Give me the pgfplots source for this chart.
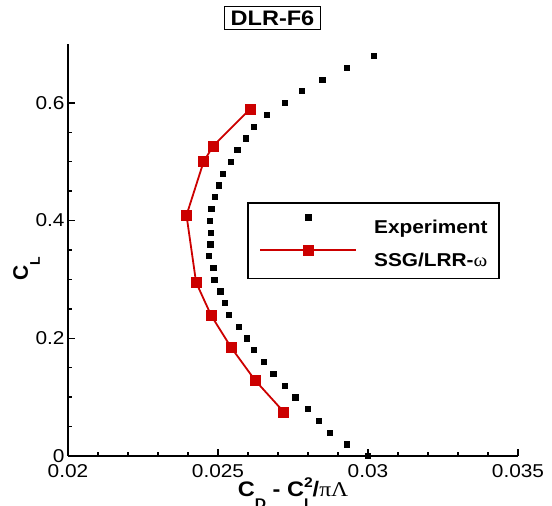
\documentclass[border=0pt]{standalone}
\usepackage{fontspec}
\setmainfont{Liberation Sans}[FakeStretch=1.12]
\newfontfamily\plainsans{Liberation Sans}
\newfontfamily\symfont{Liberation Serif}[FakeStretch=1.12]
\usepackage{pgfplots}
\pgfplotsset{compat=1.18}
\definecolor{ssgred}{RGB}{204,0,0}
\newcommand\lowsub[1]{\raisebox{-12pt}{\fontsize{14}{14}\selectfont #1}}
\newcommand\highsup[1]{\raisebox{9pt}{\fontsize{14}{14}\selectfont #1}}

\begin{document}
\begin{tikzpicture}
\begin{axis}[
    at={(0pt,0pt)}, anchor=origin,
    scale only axis, width=450pt, height=412pt,
    xmin=0.02, xmax=0.035, ymin=0, ymax=0.7,
    axis lines=left,
    axis line style={-, line width=2pt},
    xtick={0.02,0.025,0.03,0.035},
    xticklabels={0.02,0.025,0.03,0.035},
    ytick={0,0.2,0.4,0.6},
    yticklabels={0,0.2,0.4,0.6},
    minor x tick num=4, minor y tick num=3,
    scaled ticks=false,
    tick align=inside,
    major tick length=7pt, minor tick length=4pt,
    every tick/.style={black, line width=1.5pt},
    tick label style={font=\fontsize{18.6}{21}\selectfont},
    /pgf/number format/assume math mode=true,
    xticklabel style={yshift=-5pt},
    clip=false,
    title={DLR-F6},
    title style={at={(axis description cs:0.4544,1.0485)}, anchor=center,
        draw, line width=1.2pt, inner xsep=6pt, inner ysep=4pt,
        text height=15pt, text depth=0pt,
        font=\bfseries\fontsize{21}{24}\selectfont},
    xlabel={C\lowsub{D} - C\rlap{\lowsub{L}}\highsup{2}/{\symfont\mdseries πΛ}},
    xlabel style={at={(axis description cs:0.5,-0.0995)}, anchor=base,
        font=\bfseries\fontsize{21}{24}\selectfont},
    ylabel={C\lowsub{L}},
    ylabel style={at={(axis description cs:-0.0889,0.454)}, anchor=base,
        font=\plainsans\bfseries\fontsize{21}{24}\selectfont},
    legend image code/.code={
        \draw[mark repeat=2, mark phase=2, #1] plot coordinates {(0pt,9pt) (48pt,9pt) (96pt,9pt)};
    },
    legend style={at={(axis description cs:0.398,0.6165)}, anchor=north west,
        draw=black, line width=1.5pt, inner xsep=11.5pt, inner ysep=12pt,
        row sep=12pt, column sep=17pt,
        font=\bfseries\fontsize{18.6}{21}\selectfont,
        nodes={inner sep=0pt, text height=14pt, text depth=0pt},
        row 1/.style={nodes={text height=28pt}}},
    legend cell align=left,
]
\addplot[only marks, mark=square*, mark size=2.6pt, black] coordinates {
(0.03020,0.68) (0.02929,0.66) (0.02847,0.64) (0.02780,0.62) (0.02722,0.60)
(0.02663,0.58) (0.02618,0.56) (0.02592,0.54) (0.02564,0.52) (0.02542,0.50)
(0.02516,0.48) (0.02501,0.46) (0.02490,0.44) (0.02477,0.42) (0.02473,0.40)
(0.02475,0.38) (0.02474,0.36) (0.02470,0.34) (0.02484,0.32) (0.02487,0.30)
(0.02507,0.28) (0.02523,0.26) (0.02536,0.24) (0.02568,0.22) (0.02595,0.20)
(0.02620,0.18) (0.02653,0.16) (0.02684,0.14) (0.02721,0.12) (0.02757,0.10)
(0.02798,0.08) (0.02836,0.06) (0.02873,0.04) (0.02928,0.02) (0.02999,0.00)
};
\addlegendentry{Experiment}
\addplot[ssgred, line width=1.8pt, mark=square*, mark size=5pt,
    mark options={solid, fill=ssgred, line width=0.5pt}] coordinates {
(0.02606,0.589) (0.02484,0.527) (0.02452,0.500) (0.02395,0.409)
(0.02427,0.295) (0.02477,0.239) (0.02543,0.185) (0.02623,0.129)
(0.02719,0.075)
};
\addlegendentry{SSG/LRR-{\symfont\mdseries ω}}
\end{axis}
\pgfresetboundingbox
\path[use as bounding box] (-68pt,-50pt) rectangle (484pt,456pt);
\end{tikzpicture}
\end{document}
